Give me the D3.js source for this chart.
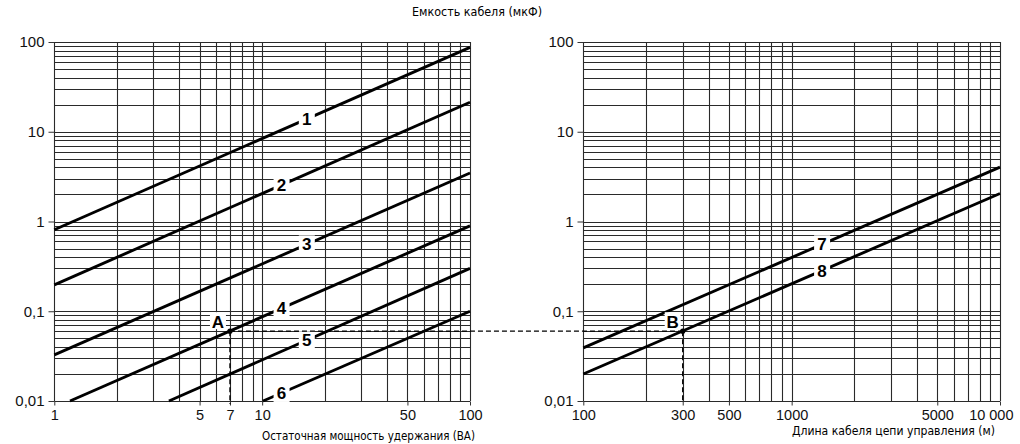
<!DOCTYPE html>
<html><head><meta charset="utf-8">
<script src="https://cdn.jsdelivr.net/npm/d3@7"></script>
<style>
body{margin:0;background:#fff;}
svg{display:block;}
</style></head>
<body><svg id="c" width="1020" height="444"></svg>
<script>
// ---- data ----
const yTickValues = [100, 10, 1, 0.1, 0.01];
const yTickLabels = ["100", "10", "1", "0,1", "0,01"];
const leftXTickValues = [1, 5, 7, 10, 50, 100];
const leftXTickLabels = ["1", "5", "7", "10", "50", "100"];
const rightXTickValues = [100, 300, 500, 1000, 5000, 10000];
const rightXTickLabels = ["100", "300", "500", "1000", "5000", "10 000"];

// left panel curves: name, start (x,y), end (x,y), label x position
const leftNames   = ["1", "2", "3", "4", "5", "6"];
const leftStartX  = [1, 1, 1, 1.19, 3.56, 10.1];
const leftStartY  = [0.81, 0.197, 0.0327, 0.01, 0.01, 0.01];
const leftEndX    = [100, 100, 100, 100, 100, 100];
const leftEndY    = [87, 21.3, 3.47, 0.895, 0.30, 0.1];
const leftLabelX  = [16.4, 12.4, 16.4, 12.4, 16.4, 12.4];

// right panel curves
const rightNames  = ["7", "8"];
const rightStartX = [100, 100];
const rightStartY = [0.039, 0.02];
const rightEndX   = [10000, 10000];
const rightEndY   = [4.04, 2.05];
const rightLabelX = [1400, 1400];

// worked example points
const pointA = [7, 0.06];
const pointB = [300, 0.06];

const titleText = "Емкость кабеля (мкФ)";
const leftXTitle = "Остаточная мощность удержания (ВА)";
const rightXTitle = "Длина кабеля цепи управления (м)";

// ---- drawing ----
const svg = d3.select("#c");
const yTop = 42, yBot = 401;
const y = d3.scaleLog().domain([0.01, 100]).range([yBot, yTop]);
const xL = d3.scaleLog().domain([1, 100]).range([54.3, 470]);
const xR = d3.scaleLog().domain([100, 10000]).range([583.3, 1000]);

function gridVals(lo, hi) {
  const v = [];
  for (let d = lo; d < hi; d *= 10) for (let k = 1; k <= 9; k++) v.push(d * k);
  v.push(hi);
  return v;
}
const yGrid = gridVals(0.01, 100);
const FONT = "'Liberation Sans', Arial, Helvetica, sans-serif";
const NARROW = "'Liberation Sans Narrow', 'Arial Narrow', 'DejaVu Sans Condensed', sans-serif";

function panel(x, xTickValues, xTickLabels, names, sx, sy, ex, ey, lx) {
  const [x0, x1] = x.range();
  const g = svg.append("g");
  // grid
  const xg = gridVals(x.domain()[0], x.domain()[1]);
  g.append("g").selectAll("line").data(yGrid).join("line")
    .attr("x1", x0).attr("x2", x1)
    .attr("y1", d => Math.round(y(d)) + 0.5).attr("y2", d => Math.round(y(d)) + 0.5)
    .attr("stroke", "#2a2a2a").attr("stroke-width", 1.1);
  g.append("g").selectAll("line").data(xg).join("line")
    .attr("y1", yTop).attr("y2", yBot)
    .attr("x1", d => Math.round(x(d)) + 0.5).attr("x2", d => Math.round(x(d)) + 0.5)
    .attr("stroke", "#2a2a2a").attr("stroke-width", 1.1);
  // y axis
  const ya = d3.axisLeft(y).tickValues(yTickValues).tickSize(6).tickPadding(4)
    .tickFormat((d, i) => yTickLabels[i]);
  const yg = g.append("g").attr("transform", `translate(${Math.round(x0) + 0.5},0)`).call(ya);
  yg.select(".domain").remove();
  yg.selectAll("line").attr("stroke", "#333");
  yg.selectAll("text").attr("font-family", FONT).attr("font-size", 15).attr("fill", "#111");
  // x axis
  const xa = d3.axisBottom(x).tickValues(xTickValues).tickSize(4).tickPadding(4)
    .tickFormat((d, i) => xTickLabels[i]);
  const xgA = g.append("g").attr("transform", `translate(0,${Math.round(yBot) + 0.5})`).call(xa);
  xgA.select(".domain").remove();
  xgA.selectAll("line").attr("stroke", "#333");
  xgA.selectAll("text").attr("font-family", FONT).attr("font-size", 14.5).attr("fill", "#111")
    .attr("text-anchor", (d, i) => i === xTickValues.length - 1 && d === 10000 ? "end" : "middle")
    .attr("dx", (d, i) => i === xTickValues.length - 1 && d === 10000 ? 13 : 0);
  // curves
  const idx = names.map((n, i) => i);
  const line = d3.line().x(d => x(d[0])).y(d => y(d[1]));
  g.append("g").selectAll("path").data(idx).join("path")
    .attr("d", i => line([[sx[i], sy[i]], [ex[i], ey[i]]]))
    .attr("fill", "none").attr("stroke", "#000").attr("stroke-width", 2.9);
  return {g, idx, names, sx, sy, ex, ey, lx, x};
}

function curveLabels(p) {
  const {g, idx, names, sx, sy, ex, ey, lx, x} = p;
  const lg = g.append("g");
  idx.forEach(i => {
    const t = (Math.log(lx[i]) - Math.log(sx[i])) / (Math.log(ex[i]) - Math.log(sx[i]));
    const ly = Math.exp(Math.log(sy[i]) + t * (Math.log(ey[i]) - Math.log(sy[i])));
    const px = x(lx[i]), py = y(ly);
    lg.append("rect").attr("x", px - 8).attr("y", py - 9).attr("width", 16).attr("height", 18).attr("fill", "#fff");
    lg.append("text").attr("x", px).attr("y", py + 6).attr("text-anchor", "middle")
      .attr("font-family", FONT).attr("font-weight", "bold").attr("font-size", 17).text(names[i]);
  });
}

const pL = panel(xL, leftXTickValues, leftXTickLabels, leftNames, leftStartX, leftStartY, leftEndX, leftEndY, leftLabelX);
const pR = panel(xR, rightXTickValues, rightXTickLabels, rightNames, rightStartX, rightStartY, rightEndX, rightEndY, rightLabelX);

// dashed construction lines
const ax = xL(pointA[0]), ay = y(pointA[1]);
const bx = xR(pointB[0]), by = y(pointB[1]);
const dash = svg.append("g").attr("stroke", "#000").attr("stroke-width", 1.3).attr("stroke-dasharray", "5,3").attr("fill", "none");
dash.append("line").attr("x1", ax).attr("x2", bx).attr("y1", ay).attr("y2", by);
dash.append("line").attr("x1", ax).attr("x2", ax).attr("y1", ay).attr("y2", y(0.01) + 3);
dash.append("line").attr("x1", bx).attr("x2", bx).attr("y1", by).attr("y2", y(0.01) + 1);

curveLabels(pL);
curveLabels(pR);

// point labels
[[ax, ay, "A", -12], [bx, by, "B", -10]].forEach(([px, py, t, dx]) => {
  svg.append("rect").attr("x", px + dx - 8).attr("y", py - 19).attr("width", 16).attr("height", 17).attr("fill", "#fff");
  svg.append("text").attr("x", px + dx).attr("y", py - 3).attr("text-anchor", "middle")
    .attr("font-family", FONT).attr("font-weight", "bold").attr("font-size", 17).text(t);
  svg.append("circle").attr("cx", px).attr("cy", py).attr("r", 2.6).attr("fill", "#000");
});

// titles
svg.append("text").attr("x", 412).attr("y", 16).attr("font-family", NARROW).attr("font-size", 13)
  .attr("textLength", 130).attr("lengthAdjust", "spacingAndGlyphs").text(titleText);
svg.append("text").attr("x", 262).attr("y", 440).attr("font-family", NARROW).attr("font-size", 13)
  .attr("textLength", 213).attr("lengthAdjust", "spacingAndGlyphs").text(leftXTitle);
svg.append("text").attr("x", 792).attr("y", 435).attr("font-family", NARROW).attr("font-size", 12.5)
  .attr("textLength", 203).attr("lengthAdjust", "spacingAndGlyphs").text(rightXTitle);
</script></body></html>
